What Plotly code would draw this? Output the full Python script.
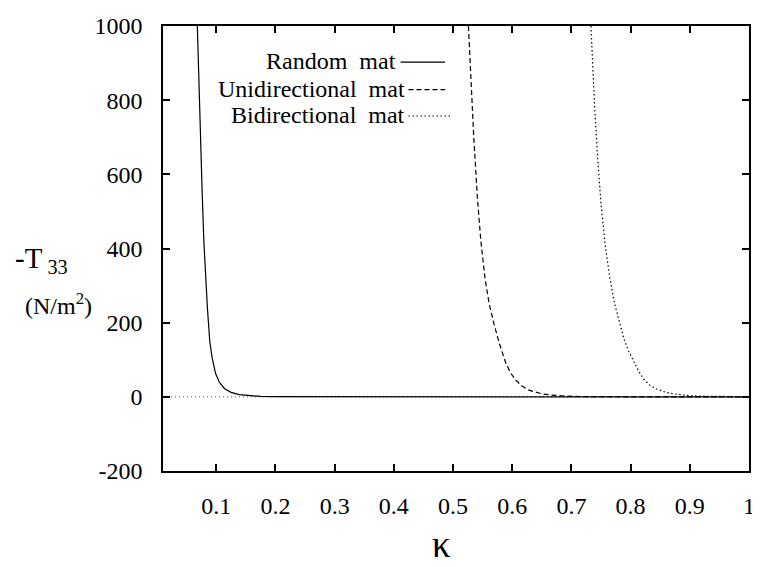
import plotly.graph_objects as go

# ---- data ----
random_k = [0.068, 0.070, 0.072, 0.074, 0.076, 0.079, 0.082, 0.085, 0.089, 0.093,
            0.099, 0.105, 0.114, 0.125, 0.139, 0.155, 0.175, 0.200, 0.300, 0.500, 0.700, 1.000]
random_t = [1000, 880, 780, 670, 560, 420, 320, 240, 150, 105,
            62, 40, 22, 12, 6, 3, 1, 0.3, 0, 0, 0, 0]

uni_k = [0.526, 0.530, 0.535, 0.541, 0.547, 0.554, 0.561, 0.569, 0.578, 0.589,
         0.597, 0.606, 0.616, 0.628, 0.640, 0.650, 0.665, 0.677, 0.690, 0.705,
         0.730, 0.760, 0.800, 1.000]
uni_t = [1000, 860, 700, 540, 420, 320, 251, 198, 145, 92,
         65, 45, 30, 18, 12, 8, 5, 3, 2, 1,
         0.5, 0.2, 0, 0]

bi_k = [0.733, 0.735, 0.739, 0.744, 0.750, 0.757, 0.765, 0.773, 0.781, 0.789,
        0.797, 0.806, 0.814, 0.822, 0.832, 0.844, 0.858, 0.872, 0.886, 0.900,
        0.920, 0.939, 0.960, 1.000]
bi_t = [1000, 920, 790, 650, 520, 410, 320, 251, 200, 155,
        122, 92, 68, 48, 32, 21, 13, 8, 5, 3,
        1.7, 1, 0.5, 0.2]

x_ticks = [0.1, 0.2, 0.3, 0.4, 0.5, 0.6, 0.7, 0.8, 0.9, 1.0]
x_tick_labels = ["0.1", "0.2", "0.3", "0.4", "0.5", "0.6", "0.7", "0.8", "0.9", "1"]
y_ticks = [-200, 0, 200, 400, 600, 800, 1000]
y_tick_labels = ["-200", "0", "200", "400", "600", "800", "1000"]

series_names = ["Random  mat", "Unidirectional  mat", "Bidirectional  mat"]

# ---- layout geometry ----
# The page body has an 8px margin, so the figure is drawn 8px smaller and
# all reference (page) pixel positions are shifted by 8px.
OFF = 8
W, H = 760 - OFF, 567 - OFF
L, R, T, B = 163 - OFF, 755 - OFF, 16 - OFF, 471 - OFF


def px(x_page):
    return (x_page - OFF - L) / (R - L)


def py(y_page):
    return (B - (y_page - OFF)) / (B - T)


FONT = "Liberation Serif"
dashes = ["solid", "5px,3px", "1.5px,2.5px"]

fig = go.Figure()
for k, t, dsh, name in [(random_k, random_t, dashes[0], series_names[0]),
                        (uni_k, uni_t, dashes[1], series_names[1]),
                        (bi_k, bi_t, dashes[2], series_names[2])]:
    fig.add_trace(go.Scatter(x=k, y=t, mode="lines", name=name,
                             line=dict(color="black", width=1.2, dash=dsh),
                             showlegend=False))

# zero axis (dotted)
fig.add_shape(type="line", xref="paper", yref="y", x0=0, x1=1, y0=0, y1=0,
              line=dict(color="#555", width=1, dash="1px,3px"), layer="below")

# gnuplot-style key: text then sample line
key = [(400, 52, 403, 448, dashes[0]),
       (410, 80, 411, 448, dashes[1]),
       (410, 107, 411, 455, dashes[2])]
for (tx, ty, lx0, lx1, dsh), name in zip(key, series_names):
    fig.add_annotation(x=px(tx), y=py(ty), xref="paper", yref="paper",
                       text=name.replace("  ", "&nbsp; "), showarrow=False,
                       xanchor="right", yanchor="middle",
                       font=dict(family=FONT, size=24, color="black"))
    fig.add_shape(type="line", xref="paper", yref="paper",
                  x0=px(lx0), x1=px(lx1), y0=py(ty + 1), y1=py(ty + 1),
                  line=dict(color="black", width=1.2, dash=dsh))

# axis titles
fig.add_annotation(x=px(11), y=py(255), xref="paper", yref="paper",
                   text="-T<sub> 33</sub>", showarrow=False,
                   xanchor="left", yanchor="middle",
                   font=dict(family=FONT, size=29, color="black"))
fig.add_annotation(x=px(22), y=py(300), xref="paper", yref="paper",
                   text="(N/m<sup>2</sup>)", showarrow=False,
                   xanchor="left", yanchor="middle",
                   font=dict(family=FONT, size=24, color="black"))
fig.add_annotation(x=px(444), y=py(546), xref="paper", yref="paper",
                   text="κ", showarrow=False,
                   xanchor="center", yanchor="middle",
                   font=dict(family=FONT, size=37, color="black"))

axis_common = dict(showgrid=False, zeroline=False, showline=True, linecolor="black",
                   linewidth=1.5, mirror="ticks", ticks="inside", ticklen=7,
                   tickwidth=1.5, tickcolor="black", ticklabeloverflow="allow",
                   tickfont=dict(family=FONT, size=24, color="black"))

fig.update_layout(
    width=W, height=H,
    margin=dict(l=L, r=W - R, t=T, b=H - B),
    paper_bgcolor="white", plot_bgcolor="white",
    xaxis=dict(range=[0.01, 1.0], tickvals=x_ticks, ticktext=x_tick_labels,
               ticklabelstandoff=12, **axis_common),
    yaxis=dict(range=[-200, 1000], tickvals=y_ticks, ticktext=y_tick_labels,
               ticklabelstandoff=14, **axis_common),
)

fig.write_html("out.html")
